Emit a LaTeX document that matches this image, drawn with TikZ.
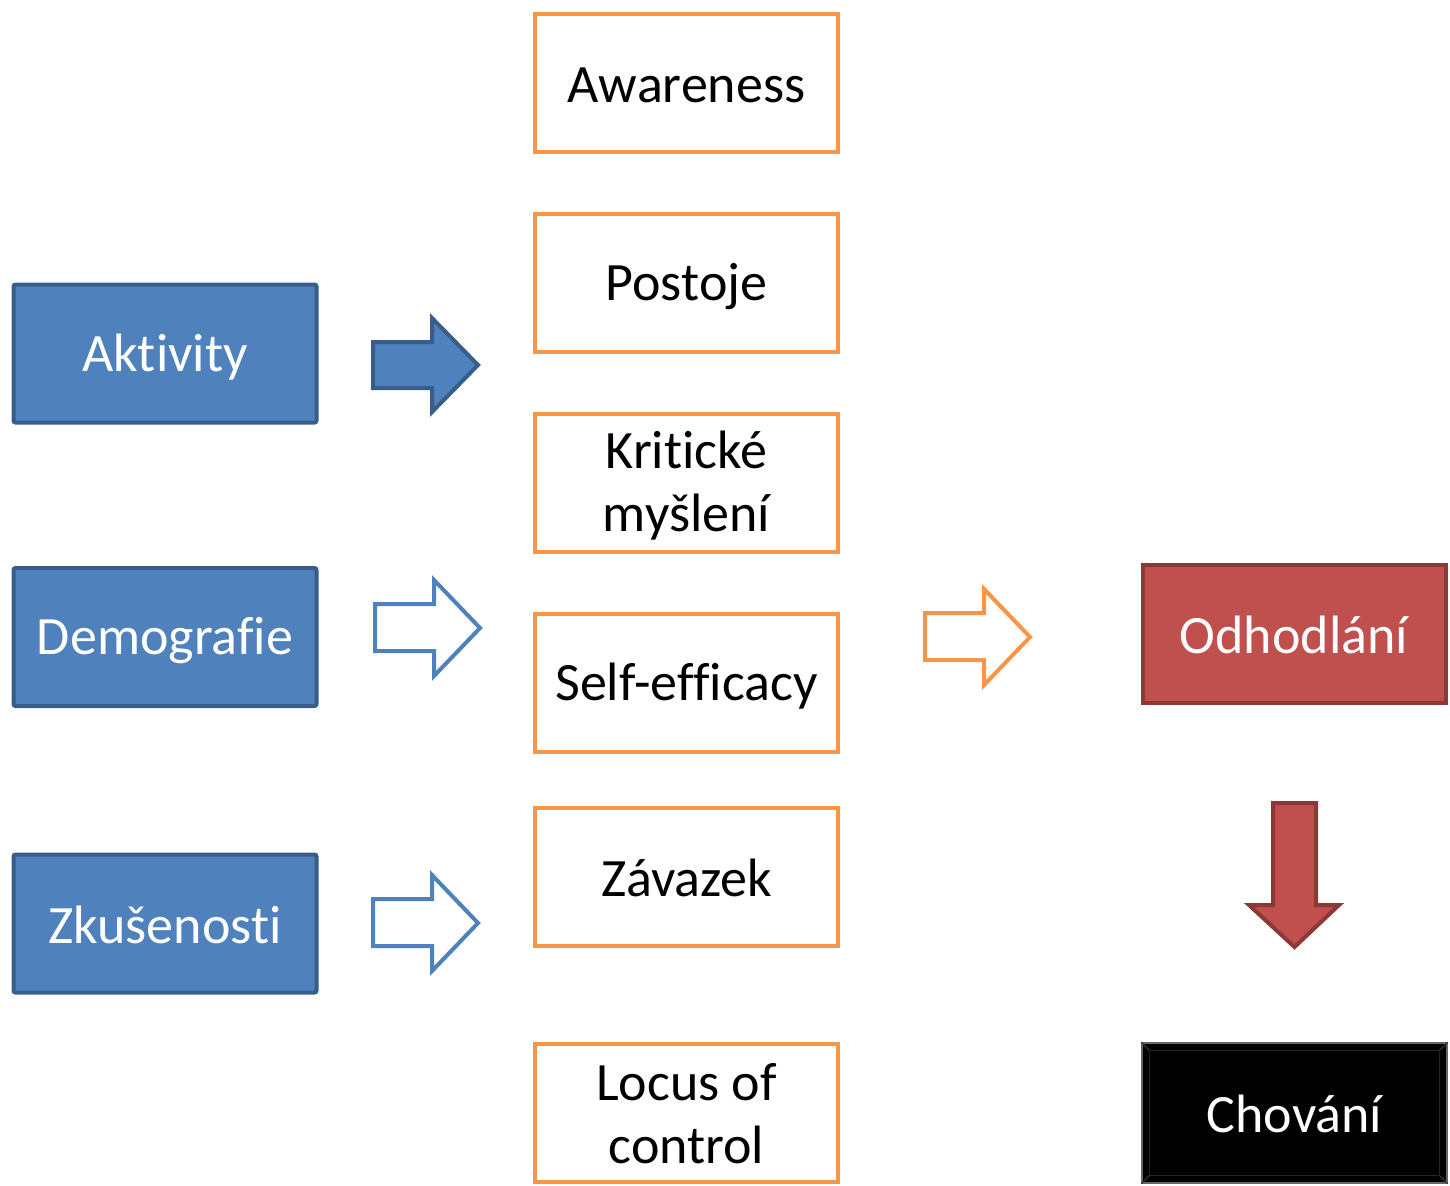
\documentclass[tikz,border=0pt]{standalone}
\usepackage{fontspec}
\setmainfont{Carlito}[Ligatures={NoCommon}]
\definecolor{borange}{HTML}{F79646}
\definecolor{bblue}{HTML}{4F81BD}
\definecolor{dblue}{HTML}{385D8A}
\definecolor{bred}{HTML}{C0504D}
\definecolor{dred}{HTML}{8C3836}
\newcommand{\zs}{\rule[-2.5pt]{0pt}{24.5pt}}
\begin{document}
\begin{tikzpicture}[x=0.5pt,y=-0.5pt,
  box/.style={rectangle, minimum width=151.5pt, minimum height=69pt, align=center,
    font=\fontsize{27}{31.5}\selectfont, inner sep=0pt},
  obox/.style={box, draw=borange, line width=2pt, fill=white, text=black},
  bbox/.style={box, draw=dblue, line width=2pt, fill=bblue, text=white, rounded corners=1pt},
  rbox/.style={box, draw=dred, line width=2pt, fill=bred, text=white},
  kbox/.style={box, draw=black!60, line width=0.8pt, fill=black, text=white},
  barrow/.style={line width=2pt, line join=miter}
]
\useasboundingbox (0,0) rectangle (1450,1185);
% orange column
\node[obox] (aw) at (686.5,83) {\zs Awareness};
\node[obox] (po) at (686.5,283) {\zs Postoje};
\node[obox] (km) at (686.5,482.5) {\zs Kritické\\\zs myšlení};
\node[obox] (se) at (686.5,683) {\zs Self-efficacy};
\node[obox] (za) at (686.5,877) {\zs Závazek};
\node[obox] (lc) at (686.5,1112.5) {\zs Locus of\\\zs control};
% blue column
\node[bbox] (ak) at (165,353.5) {\zs Aktivity};
\node[bbox] (de) at (165,637) {\zs Demografie};
\node[bbox] (zk) at (165,923.5) {\zs Zkušenosti};
% right column
\node[rbox] (od) at (1294,634) {\zs Odhodlání};
\node[kbox, minimum width=152.5pt, minimum height=70pt] (ch) at (1294.5,1113) {\zs Chování};
\draw[black!80, line width=0.6pt] (ch.north west) -- ++(8,8) (ch.north east) -- ++(-8,8)
  (ch.south west) -- ++(8,-8) (ch.south east) -- ++(-8,-8);
\draw[black!85, line width=0.6pt] ([shift={(8,8)}]ch.north west) rectangle ([shift={(-8,-8)}]ch.south east);
% block arrows
\draw[barrow, draw=dblue, fill=bblue]
  (373,342) -- (432,342) -- (432,318) -- (478,365) -- (432,412) -- (432,388) -- (373,388) -- cycle;
\draw[barrow, draw=bblue, fill=white]
  (375,604) -- (434,604) -- (434,580) -- (480,628) -- (434,676) -- (434,651) -- (375,651) -- cycle;
\draw[barrow, draw=bblue, fill=white]
  (373,899) -- (432,899) -- (432,875) -- (478,923) -- (432,971) -- (432,946) -- (373,946) -- cycle;
\draw[barrow, draw=borange, fill=white]
  (925,613) -- (984,613) -- (984,589) -- (1030,637) -- (984,685) -- (984,660) -- (925,660) -- cycle;
\draw[barrow, draw=dred, fill=bred]
  (1273,803) -- (1316,803) -- (1316,905) -- (1339,905) -- (1294.5,947) -- (1249,905) -- (1273,905) -- cycle;
\end{tikzpicture}
\end{document}
